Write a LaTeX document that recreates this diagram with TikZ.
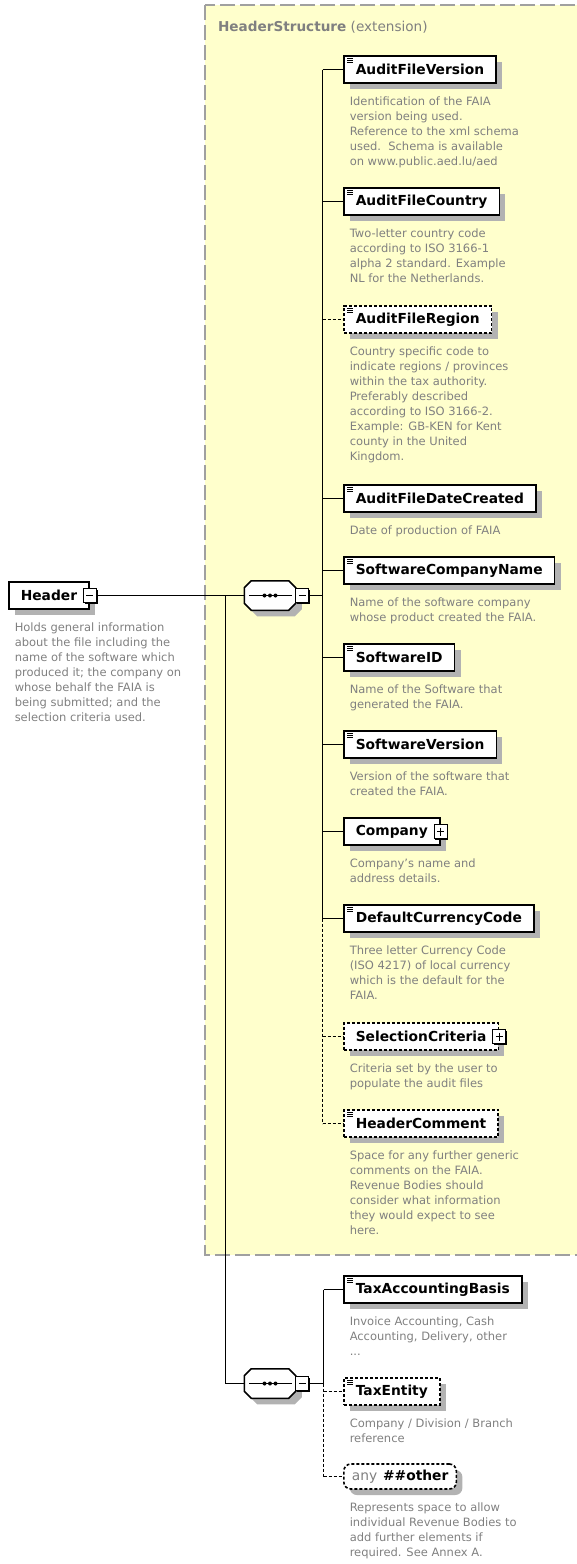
\documentclass[tikz,border=0pt]{standalone}
\usepackage{fontspec}
\setmainfont{DejaVu Sans}
\usepackage{tikz}
\usetikzlibrary{shadows,positioning}
\definecolor{extyellow}{RGB}{255,255,204}
\definecolor{descgrey}{RGB}{128,128,128}
\definecolor{shadowgrey}{RGB}{178,178,178}
\definecolor{extborder}{RGB}{160,160,160}
\tikzstyle{elem} = [draw=black, fill=white, line width=1.6pt, rectangle,
    minimum height=27pt, inner xsep=12pt, inner ysep=0pt, anchor=west,
    font=\fontsize{13.8}{16}\selectfont\bfseries,
    drop shadow={shadow xshift=6pt, shadow yshift=-6pt, fill=shadowgrey, opacity=1}]
\tikzstyle{optional} = [dash pattern=on 3pt off 2pt]
\tikzstyle{simple} = [path picture={
    \foreach \d in {2.4,4.4,6.4}
      \draw[solid, line width=0.7pt] ([xshift=3.5pt,yshift=-\d pt]path picture bounding box.north west) -- ++(6pt,0pt);
    }]
\tikzstyle{desc} = [anchor=north west, inner sep=0pt, align=left, text=descgrey,
    font=\fontsize{11.5}{15}\selectfont]
\tikzstyle{pmbox} = [draw=black, fill=white, solid, line width=1.2pt, rectangle,
    minimum width=13pt, minimum height=14pt, inner sep=0pt,
    drop shadow={shadow xshift=1.2pt, shadow yshift=-1.2pt, fill=black, opacity=1}]
\tikzstyle{minusbox} = [pmbox, path picture={
    \draw[line width=1.2pt] ([xshift=3pt]path picture bounding box.west) -- ([xshift=-3pt]path picture bounding box.east);
    }]
\tikzstyle{plusbox} = [pmbox, path picture={
    \draw[line width=1.2pt] ([xshift=3pt]path picture bounding box.west) -- ([xshift=-3pt]path picture bounding box.east);
    \draw[line width=1.2pt] ([yshift=-3pt]path picture bounding box.north) -- ([yshift=3pt]path picture bounding box.south);
    }]
\tikzstyle{seq} = [rectangle, minimum width=50pt, minimum height=28pt, inner sep=0pt]
% octagon of a sequence compositor, drawn round the named node
\newcommand{\seqoutline}[1]{%
  \draw[fill=white, drop shadow={shadow xshift=6pt, shadow yshift=-6pt, fill=shadowgrey, opacity=1}]
    ([xshift=7pt]#1.north west) -- ([xshift=-7pt]#1.north east) -- ([yshift=-7pt]#1.north east)
    -- ([yshift=7pt]#1.south east) -- ([xshift=-7pt]#1.south east) -- ([xshift=7pt]#1.south west)
    -- ([yshift=7pt]#1.south west) -- ([yshift=-7pt]#1.north west) -- cycle;
  \draw ([xshift=5pt]#1.west) -- ([xshift=-4pt]#1.east);
  \foreach \dx in {-5.5,0,5.5}
    \fill ([xshift=\dx pt]#1.center) circle (2pt);
}

\begin{document}
\begin{tikzpicture}[x=1pt, y=-1pt, line width=1.5pt]
\useasboundingbox (0,0) rectangle (576,1564);
% extension area
\draw[extborder, fill=extyellow, line width=1.3pt, dash pattern=on 15pt off 5pt] (205,5) rectangle (600,1255);
\node[anchor=west, text=descgrey, font=\fontsize{13.6}{16}\selectfont] (exttitle) at (214,27) {\textbf{HeaderStructure} (extension)};

% root element
\node[elem] (header) at (8,595.5) {Header\hspace{7pt}};
\node[minusbox] (headerpm) at (header.east) {};
\node[desc] (headerd) at ([xshift=6pt,yshift=-12pt]header.south west) {Holds general information\\about the file including the\\name of the software which\\produced it; the company on\\whose behalf the FAIA is\\being submitted; and the\\selection criteria used.};

% sequences
\node[seq] (seqa) at (270,595.5) {};
\seqoutline{seqa}
\node[minusbox] (seqapm) at ([xshift=6.5pt]seqa.east) {};
\node[seq] (seqb) at (270,1383.5) {};
\seqoutline{seqb}
\node[minusbox] (seqbpm) at ([xshift=6.5pt]seqb.east) {};

% children of the extension
\node[elem,simple] (afversion) at (343,69.5) {AuditFileVersion};
\node[desc] (afversiond) at ([xshift=6pt,yshift=-12pt]afversion.south west) {Identification of the FAIA\\version being used.\\Reference to the xml schema\\used.\ \ Schema is available\\on www.public.aed.lu/aed};
\node[elem,simple] (afcountry) at (343,201.5) {AuditFileCountry};
\node[desc] (afcountryd) at ([xshift=6pt,yshift=-12pt]afcountry.south west) {Two-letter country code\\according to ISO 3166-1\\alpha 2 standard. Example\\NL for the Netherlands.};
\node[elem,simple,optional] (afregion) at (343,319.5) {AuditFileRegion};
\node[desc] (afregiond) at ([xshift=6pt,yshift=-12pt]afregion.south west) {Country specific code to\\indicate regions / provinces\\within the tax authority.\\Preferably described\\according to ISO 3166-2.\\Example: GB-KEN for Kent\\county in the United\\Kingdom.};
\node[elem,simple] (afdate) at (343,498.5) {AuditFileDateCreated};
\node[desc] (afdated) at ([xshift=6pt,yshift=-12pt]afdate.south west) {Date of production of FAIA};
\node[elem,simple] (swcompany) at (343,570.5) {SoftwareCompanyName};
\node[desc] (swcompanyd) at ([xshift=6pt,yshift=-12pt]swcompany.south west) {Name of the software company\\whose product created the FAIA.};
\node[elem,simple] (swid) at (343,657.5) {SoftwareID};
\node[desc] (swidd) at ([xshift=6pt,yshift=-12pt]swid.south west) {Name of the Software that\\generated the FAIA.};
\node[elem,simple] (swversion) at (343,744.5) {SoftwareVersion};
\node[desc] (swversiond) at ([xshift=6pt,yshift=-12pt]swversion.south west) {Version of the software that\\created the FAIA.};
\node[elem] (company) at (343,831.5) {Company\hspace{7pt}};
\node[plusbox] (companypm) at (company.east) {};
\node[desc] (companyd) at ([xshift=6pt,yshift=-12pt]company.south west) {Company's name and\\address details.};
\node[elem,simple] (currency) at (343,918.5) {DefaultCurrencyCode};
\node[desc] (currencyd) at ([xshift=6pt,yshift=-12pt]currency.south west) {Three letter Currency Code\\(ISO 4217) of local currency\\which is the default for the\\FAIA.};
\node[elem,optional] (selection) at (343,1036.5) {SelectionCriteria\hspace{7pt}};
\node[plusbox] (selectionpm) at (selection.east) {};
\node[desc] (selectiond) at ([xshift=6pt,yshift=-12pt]selection.south west) {Criteria set by the user to\\populate the audit files};
\node[elem,simple,optional] (hcomment) at (343,1123.5) {HeaderComment};
\node[desc] (hcommentd) at ([xshift=6pt,yshift=-12pt]hcomment.south west) {Space for any further generic\\comments on the FAIA.\\Revenue Bodies should\\consider what information\\they would expect to see\\here.};

% children of the second sequence
\node[elem,simple] (taxbasis) at (343,1289.5) {TaxAccountingBasis};
\node[desc] (taxbasisd) at ([xshift=6pt,yshift=-12pt]taxbasis.south west) {Invoice Accounting, Cash\\Accounting, Delivery, other\\...};
\node[elem,simple,optional] (taxentity) at (343,1391.5) {TaxEntity};
\node[desc] (taxentityd) at ([xshift=6pt,yshift=-12pt]taxentity.south west) {Company / Division / Branch\\reference};
\node[elem,optional,rounded corners=7pt,inner xsep=8pt,minimum height=25pt] (anyother) at (343,1476.5) {{\mdseries\color{descgrey}any}\hspace{6pt}\#\#other};
\node[desc] (anyotherd) at ([xshift=6pt,yshift=-12pt]anyother.south west) {Represents space to allow\\individual Revenue Bodies to\\add further elements if\\required. See Annex A.};

% connectors
\coordinate (trunk) at (225.5,595.5);
\coordinate (busa) at (322.5,595.5);
\coordinate (busb) at (323.5,1383.5);
\draw (headerpm.east) -- (seqa.west);
\draw (trunk) |- (seqb.west);
\draw (seqapm.east) -- (busa);
\draw (seqbpm.east) -- (busb);
\draw (busa |- afversion.west) -- (busa |- currency.west);
\draw[optional] (busa |- currency.west) -- (busa |- hcomment.west);
\draw (busa |- afversion.west) -- (afversion.west);
\draw (busa |- afcountry.west) -- (afcountry.west);
\draw[optional] (busa |- afregion.west) -- (afregion.west);
\draw (busa |- afdate.west) -- (afdate.west);
\draw (busa |- swcompany.west) -- (swcompany.west);
\draw (busa |- swid.west) -- (swid.west);
\draw (busa |- swversion.west) -- (swversion.west);
\draw (busa |- company.west) -- (company.west);
\draw (busa |- currency.west) -- (currency.west);
\draw[optional] (busa |- selection.west) -- (selection.west);
\draw[optional] (busa |- hcomment.west) -- (hcomment.west);
\draw (busb |- taxbasis.west) -- (busb);
\draw[optional] (busb) -- (busb |- anyother.west);
\draw (busb |- taxbasis.west) -- (taxbasis.west);
\draw[optional] (busb |- taxentity.west) -- (taxentity.west);
\draw[optional] (busb |- anyother.west) -- (anyother.west);
\end{tikzpicture}
\end{document}
